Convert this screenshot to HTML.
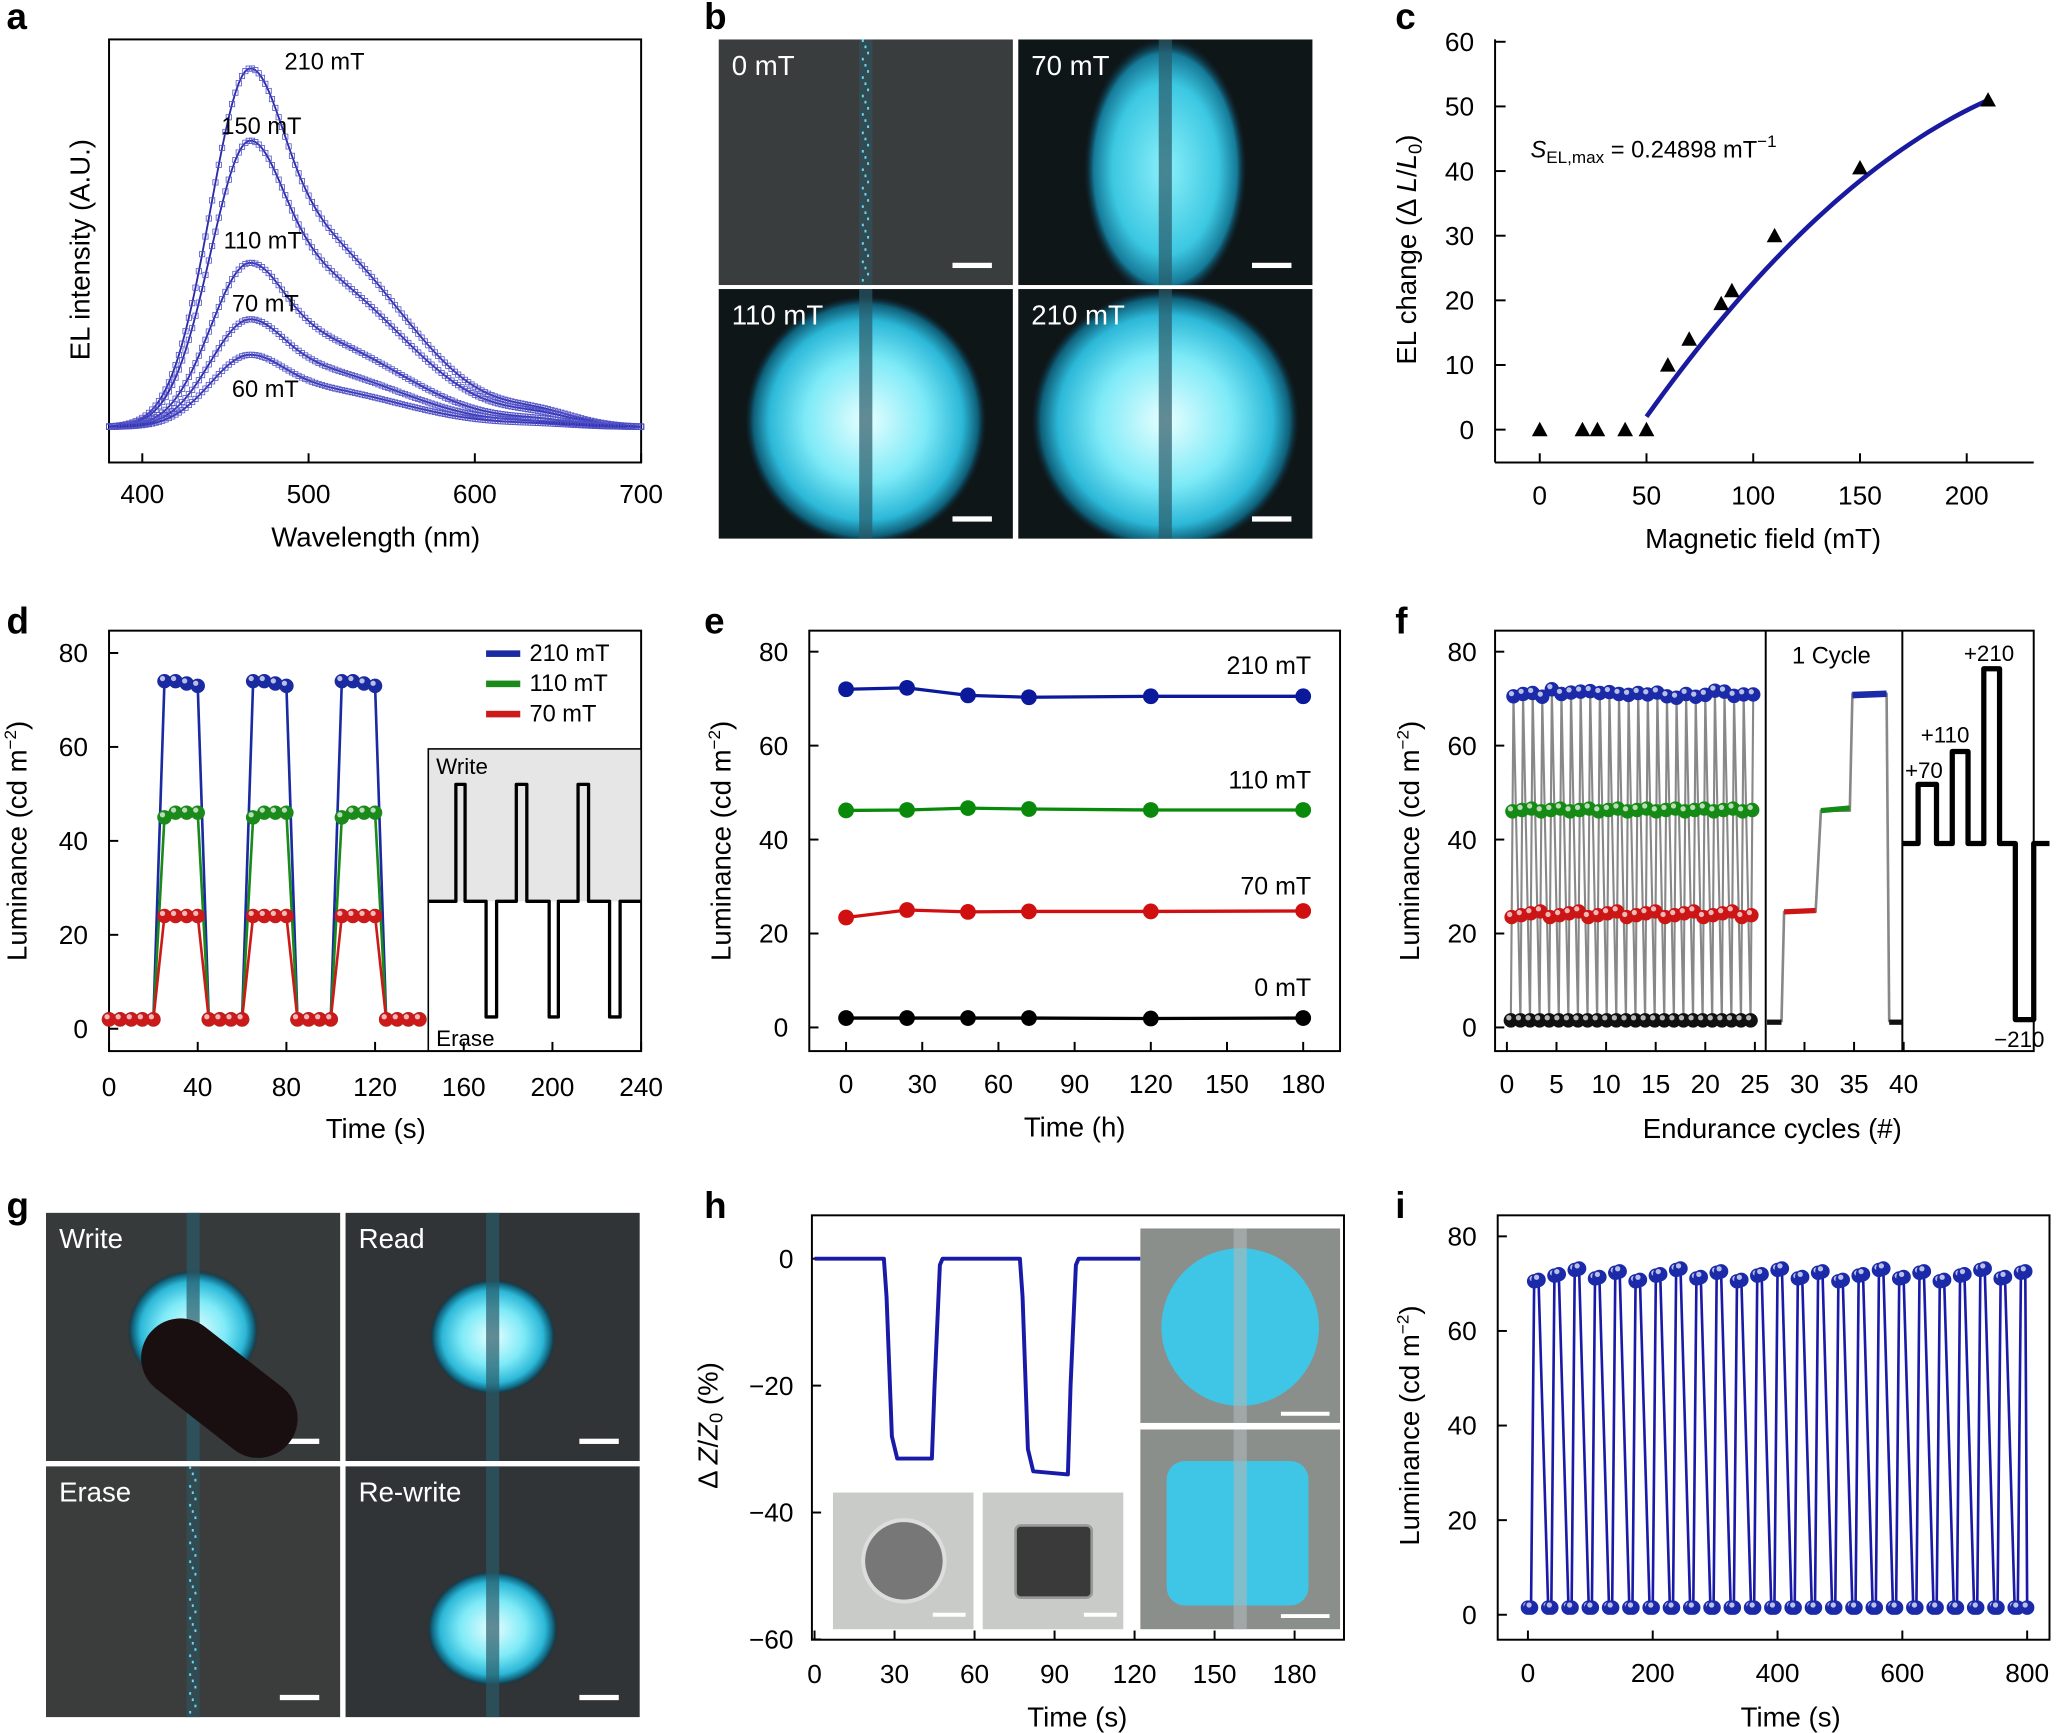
<!DOCTYPE html>
<html><head><meta charset="utf-8"><style>html,body{margin:0;padding:0;background:#fff}svg{display:block}text{font-family:"Liberation Sans",Arial,sans-serif;fill:#000}</style></head>
<body>
<svg id="s" xmlns="http://www.w3.org/2000/svg" width="2060" height="1733" viewBox="0 0 1568 1319" preserveAspectRatio="none">
<defs>
<radialGradient id="glow" cx="50%" cy="50%" r="50%"><stop offset="0" stop-color="#e8ffff"/><stop offset="0.5" stop-color="#7eeaf7"/><stop offset="0.8" stop-color="#2cb8d8"/><stop offset="0.93" stop-color="#0f5f78"/><stop offset="1" stop-color="#0a2a3a" stop-opacity="0"/></radialGradient>
<radialGradient id="glow2" cx="50%" cy="50%" r="50%"><stop offset="0" stop-color="#8cf0fa"/><stop offset="0.65" stop-color="#3cc8e2"/><stop offset="0.88" stop-color="#157a98"/><stop offset="1" stop-color="#0a2a3a" stop-opacity="0"/></radialGradient>
</defs>
</svg>
<script>
const S=document.getElementById('s'),NS='http://www.w3.org/2000/svg';
function E(t,a,p){const e=document.createElementNS(NS,t);for(const k in a)e.setAttribute(k,a[k]);(p||S).appendChild(e);return e}
function T(x,y,s,o){o=o||{};const e=E('text',Object.assign({x:x,y:y,'font-size':o.fs||20,'text-anchor':o.a||'middle'},o.at||{}),o.p);e.innerHTML=s;return e}
function L(x1,y1,x2,y2,c,w,p){E('line',{x1,y1,x2,y2,stroke:c||'#000','stroke-width':w||1.5},p)}
function P(pts,c,w,extra){E('polyline',Object.assign({points:pts.map(p=>p.join(',')).join(' '),fill:'none',stroke:c,'stroke-width':w||2,'stroke-linejoin':'round'},extra||{}))}
function box(x1,y1,x2,y2){E('rect',{x:x1,y:y1,width:x2-x1,height:y2-y1,fill:'none',stroke:'#000','stroke-width':1.5})}
function ylab(x,y,s){T(x,y,s,{fs:21,at:{transform:`rotate(-90 ${x} ${y})`}});}
function dot(x,y,c,r){E('circle',{cx:x,cy:y,r:r||6,fill:c})}
function bead(x,y,c){E('circle',{cx:x,cy:y,r:5.5,fill:c});E('circle',{cx:x-1.5,cy:y-2,r:2,fill:'#fff','fill-opacity':0.7})}
const defs=S.querySelector('defs');
[['a',5,22],['b',536,22],['c',1062,22],['d',5,482],['e',536,482],['f',1062,482],['g',5,927],['h',536,927],['i',1062,927]].forEach(l=>T(l[1],l[2],l[0],{fs:28,a:'start',at:{'font-weight':'bold'}}));

// ---- a ----
box(83,30,488,352);
const ax=w=>83+(w-380)*1.2656;
[400,500,600,700].forEach(w=>{T(ax(w),383,w);L(ax(w),352,ax(w),345)});
T(286,416,'Wavelength (nm)',{fs:21});ylab(68,190,'EL intensity (A.U.)');
const g=(x,m,s)=>Math.exp(-((x-m)**2)/(2*s*s));
[[273,0.55],[218,0.5],[125,0.45],[82,0.42],[55,0.4]].forEach(([A,sh])=>{const f=w=>(w<465?g(w,465,24):0.62*g(w,465,22)+ (1-0.62)*g(w,465,22)*0+ sh*0+ (0.38+0.0)*g(w,505,55)*1)+0.03*g(w,640,22);
const f2=w=>{let base=w<465?g(w,465,24):(0.45*g(w,465,20)+0.55*g(w,495,58)*(w<495?1:1));if(w>=465&&w<495)base=Math.max(base,0.45*g(w,465,20)+0.55);return base+0.03*g(w,640,22)};
let mx=0;for(let w=380;w<=700;w++)mx=Math.max(mx,f2(w));
let pts=[];for(let w=380;w<=700;w+=2){pts.push([ax(w),325-A*f2(w)/mx]);}
P(pts,'#2a2aa8',1.4);pts.forEach(p=>E('rect',{x:p[0]-2,y:p[1]-2,width:4,height:4,fill:'none',stroke:'#5050c8','stroke-width':0.6}))});
T(247,53,'210 mT',{fs:18});T(199,102,'150 mT',{fs:18});T(200,189,'110 mT',{fs:18});T(202,237,'70 mT',{fs:18});T(202,302,'60 mT',{fs:18});

// ---- image panels ----
let cid=0;
function img(x,y,w,h,lab,glow,gr,bg){const id='c'+(cid++);const cp=E('clipPath',{id},defs);E('rect',{x,y,width:w,height:h},cp);
const G=E('g',{'clip-path':`url(#${id})`});
E('rect',{x,y,width:w,height:h,fill:bg||'#0e1618'},G);if(glow)E('ellipse',{cx:x+w/2+(gr.dx||0),cy:y+h/2+(gr.dy||0),rx:gr.rx,ry:gr.ry,fill:'url(#'+glow+')'},G);
E('rect',{x:x+w/2-5,y:y,width:10,height:h,fill:'#2a5a68','fill-opacity':glow?0.7:0.5},G);
if(!glow){for(let k=0;k<40;k++)E('rect',{x:x+w/2-3+(k%3)*2,y:y+k*(h/40),width:1.5,height:2,fill:'#6ad8f0'},G);}
E('rect',{x:x+w-46,y:y+h-17,width:30,height:4,fill:'#fff'},G);
T(x+10,y+27,lab,{fs:21,a:'start',at:{style:'fill:#fff'},p:G});return G}
img(547,30,224,187,'0 mT',null,{},'#3a3d3e');
img(775,30,224,187,'70 mT','glow2',{rx:62,ry:100,dy:5});
img(547,220,224,190,'110 mT','glow',{rx:92,ry:95,dy:5});
img(775,220,224,190,'210 mT','glow',{rx:102,ry:100,dy:5});
const gw=img(35,923,224,189,'Write','glow',{rx:50,ry:46,dy:-5},'#363a3a');
E('rect',{x:100,y:1025,width:135,height:60,rx:30,fill:'#1a0f10',transform:'rotate(38 165 1055)'},gw);
img(263,923,224,189,'Read','glow',{rx:48,ry:44,dy:0},'#303436');
img(35,1116,224,191,'Erase',null,{},'#3a3d3c');
img(263,1116,224,191,'Re-write','glow',{rx:50,ry:44,dy:28},'#303436');

// ---- c ----
L(1138,30,1138,352);L(1138,352,1548,352);
const cx=m=>1172+m*1.625,cy=v=>327-v*4.92;
[0,10,20,30,40,50,60].forEach(v=>{T(1122,cy(v)+7,v,{a:'end'});L(1138,cy(v),1146,cy(v))});
[0,50,100,150,200].forEach(m=>{T(cx(m),384,m);L(cx(m),352,cx(m),345)});
T(1342,417,'Magnetic field (mT)',{fs:21});ylab(1078,190,'EL change (Δ <tspan font-style="italic">L</tspan>/<tspan font-style="italic">L</tspan><tspan font-size="14" dy="4">0</tspan><tspan dy="-4">)</tspan>');
{let p=[];for(let m=50;m<=210;m+=4){const d=m-50;p.push([cx(m),cy(2+0.4625*d-0.000977*d*d)]);}P(p,'#1a1aa0',3.5);}
[[0,0],[20,0],[27,0],[40,0],[50,0],[60,10],[70,14],[85,19.5],[90,21.5],[110,30],[150,40.5],[210,51]].forEach(([m,v])=>{const x=cx(m),y=cy(v);E('polygon',{points:`${x},${y-6} ${x-6},${y+5} ${x+6},${y+5}`,fill:'#000'})});
T(1165,120,'<tspan font-style="italic">S</tspan><tspan font-size="13" dy="4">EL,max</tspan><tspan dy="-4"> = 0.24898 mT</tspan><tspan font-size="13" dy="-8">−1</tspan>',{fs:18,a:'start'});

// ---- d ----
box(83,480,488,800);
const dx=t=>83+t*1.6875,dy=v=>783-v*3.575;
[0,20,40,60,80].forEach(v=>{T(67,dy(v)+7,v,{a:'end'});L(83,dy(v),90,dy(v))});
[0,40,80,120,160,200,240].forEach(t=>{T(dx(t),834,t);L(dx(t),800,dx(t),793)});
T(286,866,'Time (s)',{fs:21});ylab(20,640,'Luminance (cd m<tspan font-size="13" dy="-8">−2</tspan><tspan dy="8">)</tspan>');
E('rect',{x:326,y:570,width:162,height:116,fill:'#e6e6e6'});E('rect',{x:326,y:570,width:162,height:230,fill:'none',stroke:'#000','stroke-width':1.2});
P([[326,686],[347,686],[347,597],[354,597],[354,686],[370,686],[370,774],[378,774],[378,686],[393,686],[393,597],[401,597],[401,686],[418,686],[418,774],[425,774],[425,686],[440,686],[440,597],[448,597],[448,686],[464,686],[464,774],[472,774],[472,686],[488,686]],'#000',2.5);
T(332,589,'Write',{fs:17,a:'start'});T(332,796,'Erase',{fs:17,a:'start'});
[['#1a2aa0',[74,74,73.5,73]],['#1a8a1a',[45,46,46,46]],['#cc1a1a',[24,24,24,24]]].forEach(([c,h])=>{let pts=[];for(let c0=0;c0<4;c0++){const b=c0*40;for(let t=b;t<=b+20&&t<=140;t+=5)if(t>=b+(c0?5:0))pts.push([dx(t),dy(2)]);if(c0<3)h.forEach((v,i)=>pts.push([dx(b+25+5*i),dy(v)]));}
P(pts,c,2);pts.forEach(p=>bead(p[0],p[1],c));});
[['#1a2aa0','210 mT',503],['#1a8a1a','110 mT',526],['#cc1a1a','70 mT',549]].forEach(([c,s,y])=>{E('rect',{x:370,y:y-8,width:26,height:5,fill:c});T(403,y,s,{fs:18,a:'start'})});

// ---- e ----
box(616,480,1020,800);
const ex=t=>644+t*1.933,ey=v=>782-v*3.575;
[0,20,40,60,80].forEach(v=>{T(600,ey(v)+7,v,{a:'end'});L(616,ey(v),623,ey(v))});
[0,30,60,90,120,150,180].forEach(t=>{T(ex(t),832,t);L(ex(t),800,ex(t),793)});
T(818,865,'Time (h)',{fs:21});ylab(556,640,'Luminance (cd m<tspan font-size="13" dy="-8">−2</tspan><tspan dy="8">)</tspan>');
const et=[0,24,48,72,120,180];
[['#0a1a9a',[72,72.3,70.7,70.3,70.5,70.5],'210 mT',513],['#0a8a0a',[46.2,46.3,46.7,46.5,46.3,46.3],'110 mT',600],['#d01010',[23.4,25,24.6,24.7,24.7,24.8],'70 mT',681],['#000',[2,2,2,2,1.9,2],'0 mT',758]].forEach(([c,v,s,y])=>{const p=et.map((t,i)=>[ex(t),ey(v[i])]);P(p,c,2.5);p.forEach(q=>dot(q[0],q[1],c,6));T(998,y,s,{fs:19,a:'end'})});

// ---- f ----
box(1138,480,1548,800);L(1344,480,1344,800);L(1448,480,1448,800);
const fx=n=>1147+n*7.55,fy=v=>782-v*3.575;
[0,20,40,60,80].forEach(v=>{T(1124,fy(v)+7,v,{a:'end'});L(1138,fy(v),1145,fy(v))});
[0,5,10,15,20,25,30,35,40].forEach(n=>{T(fx(n),832,n);L(fx(n),800,fx(n),793)});
T(1349,866,'Endurance cycles (#)',{fs:21});ylab(1080,640,'Luminance (cd m<tspan font-size="13" dy="-8">−2</tspan><tspan dy="8">)</tspan>');
{let gl=[];const hv=[70.5,71,71.2,70.4,72,71,71.3,71.5,71.6,71.2,71.4,71,70.8,71.2,70.9,71.3,70.5,70.2,71,70.4,70.8,71.7,71.5,70.6,70.9,70.9];
for(let i=0;i<26;i++){const x=1150+i*7.3;gl.push([x,fy(1.5)],[x+2,fy(hv[i])]);}
P(gl,'#888',1.6);
for(let i=0;i<26;i++){const x=1150+i*7.3;bead(x,fy(1.5),'#111');bead(x+0.6,fy(23.5+(i%4)*0.4),'#cc1515');bead(x+1.2,fy(46+(i%3)*0.3),'#158a15');bead(x+2,fy(hv[i]),'#1a2aa8');}}
P([[1356,778],[1358,694],[1382,694],[1386,617],[1408,617],[1410,528],[1436,528],[1438,778]],'#888',2);
L(1345,778,1356,778,'#111',4);L(1358,694,1382,693,'#cc1515',4);L(1386,617,1408,615,'#158a15',4);L(1410,529,1436,528,'#1a2aa8',5);L(1438,778,1448,778,'#111',4);
T(1394,505,'1 Cycle',{fs:18});
P([[1448,642],[1460,642],[1460,597],[1474,597],[1474,642],[1486,642],[1486,572],[1498,572],[1498,642],[1510,642],[1510,509],[1522,509],[1522,642],[1534,642],[1534,776],[1548,776],[1548,642],[1560,642]],'#000',4);
T(1450,592,'+70',{fs:17,a:'start'});T(1462,565,'+110',{fs:17,a:'start'});T(1514,503,'+210',{fs:17});T(1537,797,'−210',{fs:17});

// ---- h ----
box(618,925,1023,1248);
const hx=t=>620+t*2.03,hy=v=>958-v*4.83;
[0,-20,-40,-60].forEach(v=>{T(604,hy(v)+7,v==0?'0':'−'+(-v),{a:'end'});L(618,hy(v),625,hy(v))});
[0,30,60,90,120,150,180].forEach(t=>{T(hx(t),1281,t);L(hx(t),1248,hx(t),1241)});
T(820,1314,'Time (s)',{fs:21});ylab(546,1085,'Δ <tspan font-style="italic">Z</tspan>/<tspan font-style="italic">Z</tspan><tspan font-size="14" dy="4">0</tspan><tspan dy="-4"> (%)</tspan>');
P([[hx(0),hy(0)],[hx(26),hy(0)],[hx(27),hy(-6)],[hx(29),hy(-28)],[hx(31),hy(-31.5)],[hx(44),hy(-31.5)],[hx(45),hy(-20)],[hx(47),hy(-1)],[hx(48),hy(0)],[hx(77),hy(0)],[hx(78),hy(-6)],[hx(80),hy(-30)],[hx(82),hy(-33.5)],[hx(95),hy(-34)],[hx(96),hy(-20)],[hx(98),hy(-1)],[hx(99),hy(0)],[868,hy(0)]],'#1a1aa8',3);
E('rect',{x:634,y:1136,width:107,height:104,fill:'#c8cbc8'});E('circle',{cx:688,cy:1188,r:31,fill:'#777',stroke:'#ddd','stroke-width':3});
E('rect',{x:748,y:1136,width:107,height:104,fill:'#c8cbc8'});E('rect',{x:773,y:1161,width:58,height:55,rx:4,fill:'#3a3a3a',stroke:'#999','stroke-width':2});
L(710,1229,735,1229,'#fff',3);L(825,1229,850,1229,'#fff',3);
E('rect',{x:868,y:935,width:152,height:148,fill:'#8a8f8c'});E('ellipse',{cx:944,cy:1010,rx:60,ry:60,fill:'#3fc6e6'});E('rect',{x:939,y:935,width:10,height:148,fill:'#b0b8b8','fill-opacity':0.6});
E('rect',{x:868,y:1088,width:152,height:152,fill:'#8a8f8c'});E('rect',{x:888,y:1112,width:108,height:110,rx:14,fill:'#3fc6e6'});E('rect',{x:939,y:1088,width:10,height:152,fill:'#b0b8b8','fill-opacity':0.6});
L(975,1076,1012,1076,'#fff',3);L(975,1230,1012,1230,'#fff',3);

// ---- i ----
box(1140,925,1560,1248);
const ix=t=>1163+t*0.475,iy=v=>1229-v*3.6;
[0,20,40,60,80].forEach(v=>{T(1124,iy(v)+7,v,{a:'end'});L(1140,iy(v),1147,iy(v))});
[0,200,400,600,800].forEach(t=>{T(ix(t),1280,t);L(ix(t),1248,ix(t),1241)});
T(1363,1314,'Time (s)',{fs:21});ylab(1080,1085,'Luminance (cd m<tspan font-size="13" dy="-8">−2</tspan><tspan dy="8">)</tspan>');
{let p=[],bs=[];for(let i=0;i<25;i++){const t=i*32.5,h=70.5+((i*7)%5)*0.6;const a=[[ix(t),iy(1.5)],[ix(t+5),iy(1.5)],[ix(t+10),iy(h)],[ix(t+17),iy(h+0.3)]];p.push(...a);bs.push(...a);}
p.push([ix(800),iy(1.5)]);bs.push([ix(800),iy(1.5)]);P(p,'#1a1aa8',2);bs.forEach(q=>bead(q[0],q[1],'#1a2aa8'));}
</script>
</body></html>
